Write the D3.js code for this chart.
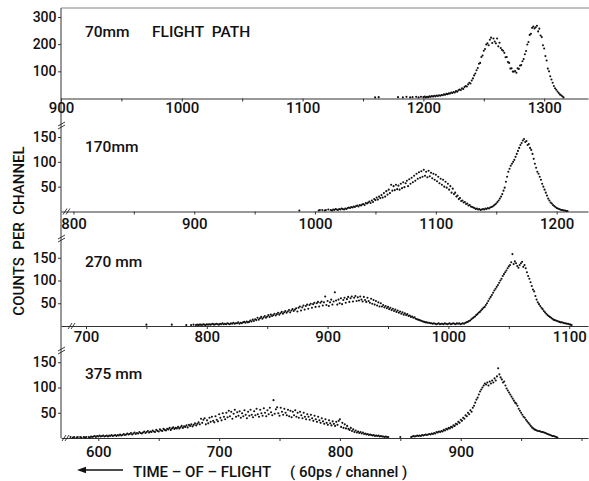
<!DOCTYPE html>
<html>
<head>
<meta charset="utf-8">
<script src="https://cdn.jsdelivr.net/npm/d3@7"></script>
<style>
  body { margin: 0; background: #fff; }
  svg { display: block; }
  text { font-family: Roboto, "Liberation Sans", Arial, sans-serif; font-weight: 500; fill: #111; }
</style>
</head>
<body>
<svg id="chart" width="589" height="481"></svg>
<script>
// Time-of-flight spectra for four flight paths (counts per 60 ps channel)
const flightPaths = ["70mm", "170mm", "270 mm", "375 mm"];
const firstChannels = [1155, 985, 745, 576];

const counts70mm = [
  0,0,0,0,0,4,0,0,5,0,
  0,0,0,0,0,0,0,0,0,0,
  0,0,0,0,5,0,0,0,4,0,
  0,6,0,0,4,0,5,0,0,6,
  0,4,0,6,0,5,7,4,6,5,
  8,6,9,7,10,8,11,9,12,10,
  13,12,15,14,17,16,19,18,22,20,
  24,22,27,25,30,33,31,38,35,42,
  46,44,52,58,55,66,74,85,92,104,
  112,128,131,153,158,176,182,199,203,196,
  216,224,204,221,210,203,221,192,205,186,
  179,176,168,152,153,134,131,110,111,99,
  99,101,95,111,109,121,123,137,145,163,
  175,199,208,234,238,260,265,258,262,268,
  247,257,232,226,196,184,156,140,110,100,
  82,70,58,46,38,32,26,20,15,12,
  8,4
];

const counts170mm = [
  0,0,2,0,0,0,0,0,0,0,
  0,0,0,0,0,0,0,0,2,3,
  0,3,0,2,3,0,4,0,3,2,
  4,3,5,4,3,5,4,6,5,4,
  6,5,7,8,7,9,8,10,9,11,
  12,10,13,12,14,15,13,17,16,18,
  20,17,22,19,25,23,28,24,30,27,
  33,28,37,30,41,34,44,37,54,42,
  51,43,54,45,52,44,56,47,59,49,
  57,62,51,65,56,68,59,72,62,76,
  66,79,68,81,70,84,72,80,69,82,
  71,78,67,76,64,74,61,70,57,66,
  54,64,50,60,48,56,44,51,38,46,
  35,38,30,32,25,27,21,22,18,19,
  15,16,12,13,10,9,8,7,5,6,
  4,5,3,4,5,4,6,5,7,6,
  8,9,10,12,14,16,19,22,26,30,
  35,42,48,60,70,80,86,92,96,100,
  104,110,116,122,128,134,138,143,146,140,
  142,134,136,128,124,116,106,96,88,80,
  76,70,64,56,50,44,38,32,26,22,
  18,16,13,11,9,7,6,5,4,3,
  3,2,2,1,1,0
];

const counts270mm = [
  0,0,0,0,0,3,0,0,0,0,
  0,0,0,0,0,0,0,0,0,0,
  0,0,0,0,0,0,3,0,0,0,
  0,0,0,0,0,0,0,0,2,0,
  0,0,2,0,3,0,2,3,2,3,
  3,2,4,3,2,4,3,4,3,4,
  5,3,4,5,4,3,5,4,6,4,
  5,4,6,5,4,6,5,7,5,6,
  6,8,5,7,6,8,9,7,10,8,
  9,12,10,14,11,15,13,18,14,17,
  20,16,19,22,18,21,24,20,25,22,
  24,27,23,26,29,25,28,31,27,30,
  33,29,32,35,30,34,37,33,36,39,
  32,40,43,34,41,45,36,44,47,38,
  46,49,40,48,51,42,50,53,43,51,
  54,45,52,65,46,55,44,52,58,47,
  54,74,56,47,58,50,61,48,57,62,
  51,59,64,53,61,65,54,62,66,55,
  63,56,65,58,54,64,57,53,62,55,
  51,60,49,57,47,55,45,52,43,50,
  43,46,41,44,39,42,37,40,35,38,
  33,36,31,34,29,32,27,30,25,28,
  24,26,22,23,20,21,18,19,16,15,
  14,13,12,11,10,9,8,8,7,7,
  6,6,5,6,5,4,5,6,4,5,
  5,4,6,5,4,5,6,4,5,6,
  5,4,6,5,6,4,5,6,5,7,
  8,9,11,12,15,17,19,21,24,26,
  29,31,34,37,40,42,46,50,55,60,
  64,68,73,78,82,86,90,95,100,104,
  110,114,118,122,127,131,134,140,158,136,
  142,138,132,128,134,138,141,130,134,127,
  118,110,104,96,88,80,76,66,58,52,
  48,44,40,37,33,30,27,24,22,20,
  18,16,14,13,12,11,10,9,8,8,
  7,6,6,5,5,4,3,2
];

const counts375mm = [
  0,2,0,1,2,0,1,2,0,2,
  1,0,2,1,2,0,2,1,3,2,
  3,4,2,4,3,5,3,4,5,3,
  4,5,3,5,4,6,4,5,6,4,
  6,5,7,5,6,8,6,7,9,7,
  8,10,7,9,11,8,10,9,12,10,
  9,11,13,10,12,14,11,13,12,15,
  13,12,16,14,13,17,15,14,18,16,
  15,18,17,20,16,19,21,18,20,19,
  22,19,21,24,20,23,22,25,21,26,
  24,27,23,26,29,25,28,31,27,38,
  30,36,39,27,35,29,40,32,42,34,
  31,43,36,33,47,40,35,49,42,37,
  50,41,54,43,52,38,48,56,42,51,
  44,53,40,49,43,55,46,39,52,44,
  56,46,41,53,45,58,47,42,56,49,
  44,59,50,43,55,47,60,51,45,75,
  48,57,61,49,44,60,52,46,58,50,
  45,56,43,54,41,52,45,55,42,50,
  40,52,45,39,50,42,37,47,42,36,
  46,39,34,44,37,32,42,35,30,39,
  33,28,37,30,26,35,29,25,33,28,
  24,32,26,34,37,22,30,20,27,19,
  24,18,16,20,14,17,12,15,11,13,
  10,12,9,11,8,9,7,8,6,7,
  6,5,6,4,5,4,5,3,4,3,
  3,2,3,2,2,0,0,0,0,0,
  0,0,0,0,2,0,0,0,0,0,
  0,0,0,2,3,4,3,4,5,4,
  5,4,6,5,6,7,6,7,8,7,
  9,8,10,9,12,11,13,12,14,13,
  16,15,18,17,20,19,22,21,25,24,
  28,27,32,30,36,34,40,38,45,43,
  50,47,55,52,60,64,70,76,80,86,
  92,96,100,104,108,106,110,104,112,108,
  114,110,118,114,122,138,126,120,116,110,
  112,104,98,94,90,86,82,78,74,70,
  68,64,58,54,50,46,42,40,36,33,
  30,27,24,21,19,17,16,15,14,14,
  13,12,12,11,10,9,8,7,6,5,
  4,4,3,2,1
];

const seriesCounts = [counts70mm, counts170mm, counts270mm, counts375mm];
const xTickLabels = [
  [900, 1000, 1100, 1200, 1300],
  [800, 900, 1000, 1100, 1200],
  [700, 800, 900, 1000, 1100],
  [600, 700, 800, 900]
];
const yTickLabels = [[100, 200, 300], [50, 100, 150], [50, 100, 150], [50, 100, 150]];
const yTitle = "COUNTS\u00a0 PER\u00a0 CHANNEL";
const xTitle = "TIME \u2013 OF \u2013 FLIGHT";
const xTitleUnit = "( 60ps / channel )";

// ---- geometry ----
const axisX = 61, axisRight = 588, pxPerChannel = 1.208;
const fontStack = "Roboto, 'Liberation Sans', Arial, sans-serif";
const panels = [
  { xStart: 900,   base: 98.5,  pxPerCount: 0.2717, labelY: 37,  tickPad: 0.5, brk: null, xBrk: null },
  { xStart: 789.7, base: 211.5, pxPerCount: 0.4967, labelY: 152, tickPad: 3.5, brk: 125,  xBrk: 66 },
  { xStart: 679.3, base: 326,   pxPerCount: 0.455,  labelY: 267, tickPad: 2.7, brk: 238,  xBrk: 71 },
  { xStart: 569.1, base: 438,   pxPerCount: 0.505,  labelY: 379, tickPad: 5.5, brk: 350,  xBrk: 65 }
];

const svg = d3.select("#chart");

// continuous vertical axis through all four panels
svg.append("line")
  .attr("x1", axisX).attr("x2", axisX)
  .attr("y1", 8).attr("y2", panels[3].base)
  .attr("stroke", "#333").attr("stroke-width", 1);

// frame line on top of the first panel
svg.append("line")
  .attr("x1", axisX).attr("x2", 589)
  .attr("y1", 8).attr("y2", 8)
  .attr("stroke", "#666").attr("stroke-width", 0.8);

panels.forEach((p, i) => {
  const x = d3.scaleLinear()
    .domain([p.xStart, p.xStart + (axisRight - axisX) / pxPerChannel])
    .range([axisX, axisRight]);
  const y = d3.scaleLinear()
    .domain([0, 100])
    .range([p.base, p.base - 100 * p.pxPerCount]);

  const [d0, d1] = x.domain();
  const minorTicks = d3.range(Math.ceil(d0 / 50) * 50, d1, 50);
  const labels = new Set(xTickLabels[i]);

  const gx = svg.append("g")
    .attr("transform", `translate(0,${p.base})`)
    .call(d3.axisBottom(x)
      .tickValues(minorTicks)
      .tickSize(3)
      .tickSizeOuter(0)
      .tickPadding(p.tickPad)
      .tickFormat(d => labels.has(d) ? d : ""));
  gx.select(".domain").attr("stroke", "#333");
  gx.selectAll(".tick line").attr("stroke", "#333");
  gx.selectAll(".tick text")
    .attr("font-family", fontStack)
    .attr("font-size", 15).attr("fill", "#111");

  const gy = svg.append("g")
    .attr("transform", `translate(${axisX},0)`)
    .call(d3.axisLeft(y)
      .tickValues(yTickLabels[i])
      .tickSize(3)
      .tickPadding(1.5));
  gy.select(".domain").remove();
  gy.selectAll(".tick line").attr("stroke", "#333");
  gy.selectAll(".tick text")
    .attr("font-family", fontStack)
    .attr("font-size", 14).attr("fill", "#111");

  // axis break marks
  if (p.brk !== null) {
    svg.append("path")
      .attr("d", `M${axisX - 3},${p.brk + 1} L${axisX + 4},${p.brk - 3} M${axisX - 3},${p.brk + 4} L${axisX + 4},${p.brk}`)
      .attr("stroke", "#222").attr("stroke-width", 0.9).attr("fill", "none");
  }
  if (p.xBrk !== null) {
    svg.append("path")
      .attr("d", `M${p.xBrk - 3},${p.base + 3} L${p.xBrk + 1},${p.base - 3} M${p.xBrk},${p.base + 3} L${p.xBrk + 4},${p.base - 3}`)
      .attr("stroke", "#222").attr("stroke-width", 0.9).attr("fill", "none");
  }

  // measured counts, one dot per channel
  const pts = seriesCounts[i]
    .map((c, k) => ({ ch: firstChannels[i] + k, c }))
    .filter(d => d.c > 0);
  svg.append("g").selectAll("circle")
    .data(pts)
    .join("circle")
    .attr("cx", d => x(d.ch))
    .attr("cy", d => y(d.c))
    .attr("r", 1.05)
    .attr("fill", "#111");

  // flight path label
  svg.append("text")
    .attr("x", 85).attr("y", p.labelY)
    .attr("font-size", 15.5)
    .text(flightPaths[i]);
});

svg.append("text")
  .attr("x", 152).attr("y", panels[0].labelY)
  .attr("font-size", 15.5)
  .text("FLIGHT\u00a0 PATH");

// y-axis title
svg.append("text")
  .attr("transform", "translate(24,231) rotate(-90)")
  .attr("text-anchor", "middle")
  .attr("font-size", 15)
  .text(yTitle);

// x-axis title with leftward arrow
svg.append("line")
  .attr("x1", 123).attr("x2", 84)
  .attr("y1", 470).attr("y2", 470)
  .attr("stroke", "#111").attr("stroke-width", 1.6);
svg.append("path")
  .attr("d", "M77,470 L86,466.8 L86,473.2 Z")
  .attr("fill", "#111");
svg.append("text")
  .attr("x", 133).attr("y", 476.5)
  .attr("font-size", 15)
  .text(xTitle);
svg.append("text")
  .attr("x", 290).attr("y", 476.5)
  .attr("font-size", 15)
  .text(xTitleUnit);
</script>
</body>
</html>
